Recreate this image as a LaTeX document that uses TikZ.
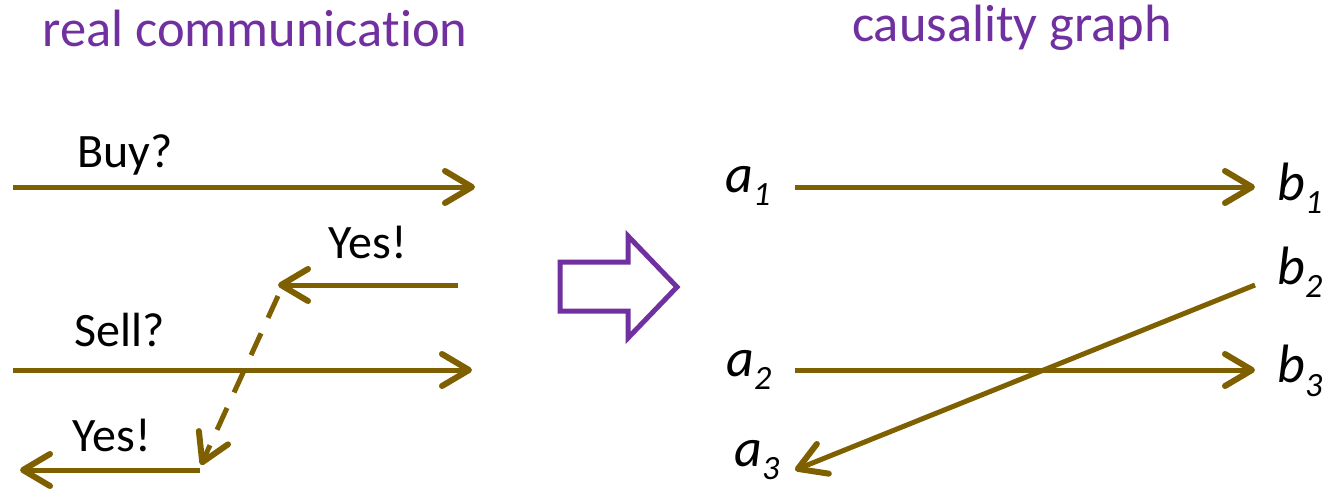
\documentclass[tikz,border=0pt]{standalone}
\usepackage{fontspec}
\setmainfont{Carlito}[Ligatures={NoCommon}]
\usetikzlibrary{arrows.meta}
\definecolor{brn}{HTML}{7F6000}
\definecolor{purp}{HTML}{7030A0}
\begin{document}
\begin{tikzpicture}[x=1pt,y=-1pt,
  msg/.style={draw=brn,line width=5pt,-{Straight Barb[length=27pt,width=32pt,round,line width=6pt]}},
  dmsg/.style={msg,dash pattern=on 24pt off 17pt},
  lbl/.style={font=\fontsize{48}{56}\selectfont,inner sep=0pt},
  ttl/.style={font=\fontsize{52.5}{60}\selectfont,text=purp,inner sep=0pt},
  ev/.style={font=\fontsize{54}{60}\selectfont\itshape,inner sep=0pt}]
\useasboundingbox (0,0) rectangle (1330,491);
% titles
\node[ttl] (t1) at (255,28) {real communica\kern0pt tion};
\node[ttl] (t2) at (1012,28) {causality graph};
% left panel
\coordinate (b0) at (13,187); \coordinate (b1) at (475,187);
\coordinate (y0) at (458,285); \coordinate (y1) at (278,285);
\coordinate (s0) at (13,370); \coordinate (s1) at (472,370);
\coordinate (z0) at (200,470); \coordinate (z1) at (20,470);
\coordinate (d0) at (278,296); \coordinate (d1) at (201,465);
\draw[msg] (b0) -- (b1);
\draw[msg] (y0) -- (y1);
\draw[msg] (s0) -- (s1);
\draw[msg] (z0) -- (z1);
\draw[dmsg] (d0) -- (d1);
\node[lbl] (buy) at (125,155) {Buy?};
\node[lbl] (yes1) at (368,242) {Yes!};
\node[lbl] (sell) at (120,330) {Sell?};
\node[lbl] (yes2) at (112,435) {Yes!};
% block arrow
\draw[purp,line width=5pt,line join=miter]
  (560,262) -- (628,262) -- (628,236) -- (677,287) -- (628,338) -- (628,311) -- (560,311) -- cycle;
% right panel
\node[ev] (a1) at (748,186) {a\textsubscript{\fontsize{34}{40}\selectfont 1}};
\node[ev] (a2) at (749,370) {a\textsubscript{\fontsize{34}{40}\selectfont 2}};
\node[ev] (a3) at (757,460) {a\textsubscript{\fontsize{34}{40}\selectfont 3}};
\node[ev] (e1) at (1300,188) {b\textsubscript{\fontsize{34}{40}\selectfont 1}};
\node[ev] (e2) at (1300,272) {b\textsubscript{\fontsize{34}{40}\selectfont 2}};
\node[ev] (e3) at (1300,371) {b\textsubscript{\fontsize{34}{40}\selectfont 3}};
\coordinate (p1) at (795,187); \coordinate (q1) at (1255,187);
\coordinate (p2) at (795,370); \coordinate (q2) at (1255,370);
\coordinate (q3) at (1255,285); \coordinate (p3) at (795,470);
\draw[msg] (p1) -- (q1);
\draw[msg] (p2) -- (q2);
\draw[msg] (q3) -- (p3);
\end{tikzpicture}
\end{document}
